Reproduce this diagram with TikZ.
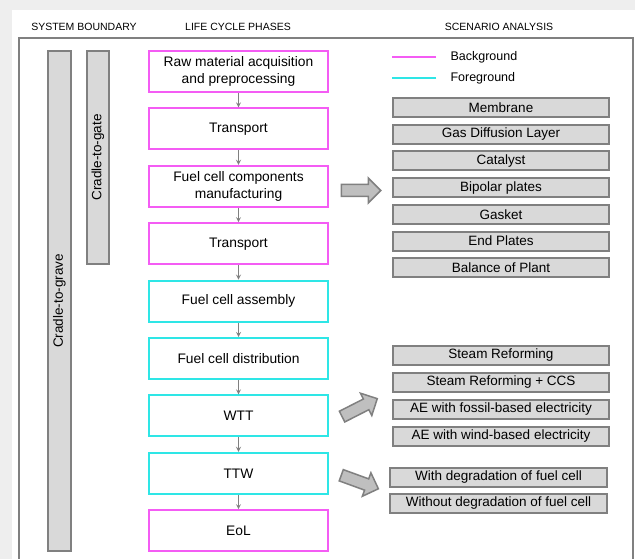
\documentclass[tikz,border=0pt]{standalone}
\usepackage{fontspec}
\setmainfont{Liberation Sans}
\usepackage{xcolor}
\usepackage{tikz}
\usetikzlibrary{shapes.arrows, arrows, positioning}
\definecolor{bgpink}{HTML}{F45CF4}
\definecolor{fgcyan}{HTML}{2EE6E6}
\definecolor{boxgray}{HTML}{D9D9D9}
\definecolor{linegray}{HTML}{808080}
\definecolor{shadowgray}{HTML}{EEEEEE}
\tikzstyle{bgphase} = [rectangle, minimum width=179pt, minimum height=41pt, text centered, align=center, draw=bgpink, line width=2pt, fill=white, font=\fontsize{13.8}{16.5}\selectfont]
\tikzstyle{fgphase} = [bgphase, draw=fgcyan]
\tikzstyle{scenario} = [rectangle, minimum width=216pt, minimum height=19pt, inner sep=1pt, text centered, draw=linegray, line width=2pt, fill=boxgray, font=\fontsize{13.5}{16}\selectfont]
\tikzstyle{bound} = [rectangle, rotate=90, minimum height=23pt, text centered, draw=linegray, line width=2pt, fill=boxgray, font=\fontsize{13.5}{16}\selectfont]
\tikzstyle{header} = [font=\fontsize{10.5}{12}\selectfont]
\tikzstyle{key} = [anchor=west, font=\fontsize{12.5}{15}\selectfont]
\tikzstyle{arrow} = [draw=linegray, line width=1.2pt, ->, >=stealth]
\tikzstyle{fatarrow} = [single arrow, draw=linegray, line width=1.5pt, fill=gray!50, minimum height=39.5pt, inner sep=5.25pt, single arrow head extend=6.5pt]

\begin{document}
\begin{tikzpicture}[x=1pt, y=-1pt, node distance=14.4pt]
\useasboundingbox (0,0) rectangle (635,559);
\fill[shadowgray] (0,0) rectangle (635,559);
\fill[white] (12,10) rectangle (635,559);
\draw[linegray, line width=2pt] (19,560) |- (633,38) -- (633,560);

% headers
\node (hsys) [header] at (84,27) {SYSTEM BOUNDARY};
\node (hlcp) [header] at (238,27) {LIFE CYCLE PHASES};
\node (hsce) [header] at (499,27) {SCENARIO ANALYSIS};

% system boundary
\node (grave) [bound, minimum width=500pt] at (59.5,301) {Cradle-to-grave};
\node (gate) [bound, minimum width=213pt, minimum height=22pt] at (98,157.5) {Cradle-to-gate};

% life cycle phases
\node (raw) [bgphase] at (238.5,71.5) {Raw material acquisition\\and preprocessing};
\node (trans1) [bgphase, below=of raw] {Transport};
\node (comp) [bgphase, below=of trans1] {Fuel cell components\\manufacturing};
\node (trans2) [bgphase, below=of comp] {Transport};
\node (assy) [fgphase, below=of trans2] {Fuel cell assembly};
\node (dist) [fgphase, below=of assy] {Fuel cell distribution};
\node (wtt) [fgphase, below=of dist] {WTT};
\node (ttw) [fgphase, below=of wtt] {TTW};
\node (eol) [bgphase, below=of ttw] {EoL};

\draw [arrow] (raw) -- (trans1);
\draw [arrow] (trans1) -- (comp);
\draw [arrow] (comp) -- (trans2);
\draw [arrow] (trans2) -- (assy);
\draw [arrow] (assy) -- (dist);
\draw [arrow] (dist) -- (wtt);
\draw [arrow] (wtt) -- (ttw);
\draw [arrow] (ttw) -- (eol);

% legend
\node (bgkey) [key] at (447,57) {Background};
\node (fgkey) [key] at (447,78) {Foreground};
\draw [bgpink, line width=2pt] ([xshift=-11pt]bgkey.west) -- ++(-44,0);
\draw [fgcyan, line width=2pt] ([xshift=-11pt]fgkey.west) -- ++(-44,0);

% scenario analysis
\node (memb) [scenario] at (501,107.5) {Membrane};
\node (gdl) [scenario, below=5.7pt of memb] {Gas Diffusion Layer};
\node (cat) [scenario, below=5.7pt of gdl] {Catalyst};
\node (bip) [scenario, below=5.7pt of cat] {Bipolar plates};
\node (gask) [scenario, below=5.7pt of bip] {Gasket};
\node (endp) [scenario, below=5.7pt of gask] {End Plates};
\node (bop) [scenario, below=5.7pt of endp] {Balance of Plant};

\node (sr) [scenario] at (501,355) {Steam Reforming};
\node (srccs) [scenario, below=6pt of sr] {Steam Reforming + CCS};
\node (aefos) [scenario, below=6pt of srccs] {AE with fossil-based electricity};
\node (aewind) [scenario, below=6pt of aefos] {AE with wind-based electricity};

\node (withdeg) [scenario, minimum width=217pt] at (498.5,477.5) {With degradation of fuel cell};
\node (nodeg) [scenario, minimum width=217pt, below=5pt of withdeg] {Without degradation of fuel cell};

% block arrows
\node (farrcomp) [fatarrow] at (358,190.5) {};
\node (farrwtt) [fatarrow, rotate=27] at (357,409) {};
\node (farrttw) [fatarrow, rotate=-20] at (357,481) {};

\end{tikzpicture}
\end{document}
